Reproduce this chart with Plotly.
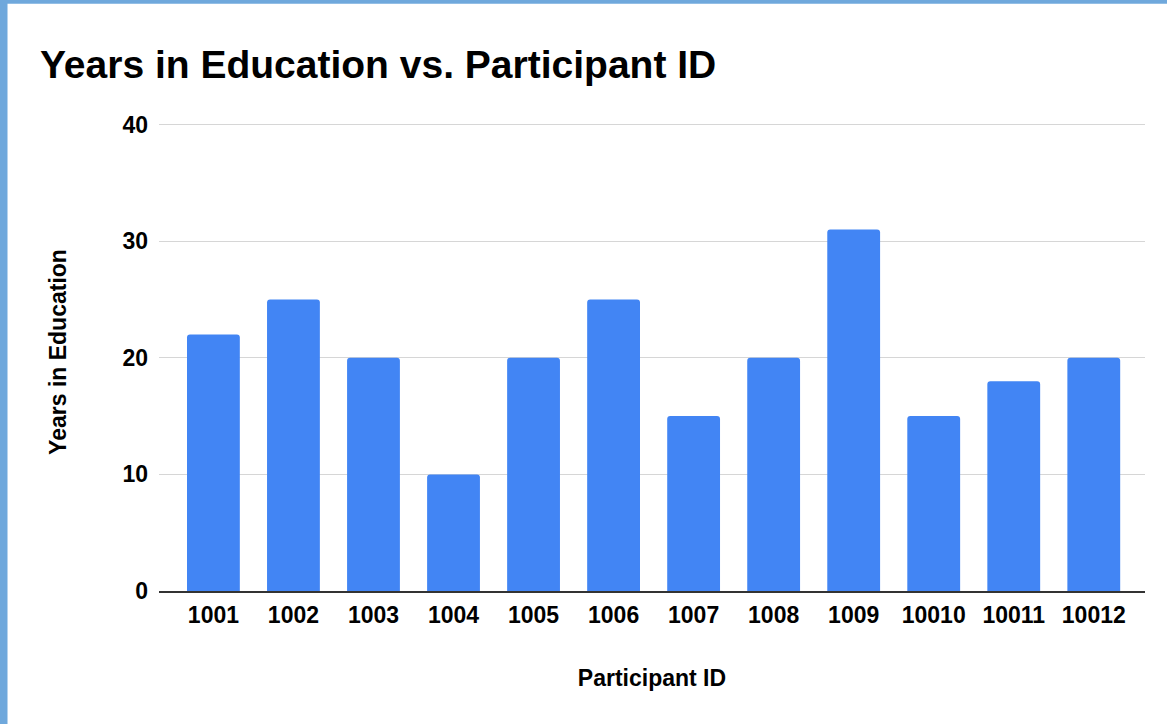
import plotly.graph_objects as go

# Participant IDs and their years in education
participant_ids = ["1001", "1002", "1003", "1004", "1005", "1006",
                   "1007", "1008", "1009", "10010", "10011", "10012"]
years_in_education = [22, 25, 20, 10, 20, 25, 15, 20, 31, 15, 18, 20]
y_ticks = [0, 10, 20, 30, 40]

W, H = 1167, 724
M_L, M_R, M_T, M_B = 159, 22, 113, 133
PW, PH = W - M_L - M_R, H - M_T - M_B

FONT = "Liberation Sans, Arial, sans-serif"
BAR = "#4285F4"
FRAME = "#6FA8DC"

fig = go.Figure(
    go.Bar(
        x=list(range(len(participant_ids))),
        y=years_in_education,
        marker=dict(color=BAR, line=dict(width=0), cornerradius=3),
        width=0.66,
        hoverinfo="x+y",
    )
)

fig.update_layout(
    width=W,
    height=H,
    margin=dict(l=M_L, r=M_R, t=M_T, b=M_B),
    paper_bgcolor="white",
    plot_bgcolor="white",
    showlegend=False,
    font=dict(family=FONT, color="#000000"),
    title=dict(
        text="Years in Education vs. Participant ID",
        font=dict(family=FONT, size=39, weight="bold", color="#000000"),
        x=40 / W,
        xanchor="left",
        xref="container",
        y=1 - 64 / H,
        yanchor="middle",
        yref="container",
    ),
    xaxis=dict(
        tickmode="array",
        tickvals=list(range(len(participant_ids))),
        ticktext=participant_ids,
        range=[-0.68, 11.64],
        showgrid=False,
        zeroline=False,
        showline=True,
        linecolor="#333333",
        linewidth=1.5,
        ticks="",
        ticklabelstandoff=3,
        tickfont=dict(family=FONT, size=23, weight="bold", color="#000000"),
        title=dict(
            text="Participant ID",
            font=dict(family=FONT, size=23, weight="bold", color="#000000"),
            standoff=43,
        ),
    ),
    yaxis=dict(
        range=[0, 41],
        tickmode="array",
        tickvals=y_ticks,
        showgrid=True,
        gridcolor="#D6D6D6",
        gridwidth=1,
        zeroline=False,
        showline=False,
        ticks="",
        ticklabelstandoff=10,
        tickfont=dict(family=FONT, size=23, weight="bold", color="#000000"),
        title=dict(
            text="Years in Education",
            font=dict(family=FONT, size=23, weight="bold", color="#000000"),
            standoff=49,
        ),
    ),
    shapes=[
        # frame strip along the left edge
        dict(type="rect", xref="paper", yref="paper", layer="above",
             x0=-M_L / PW - 0.01, x1=(7.5 - M_L) / PW,
             y0=-M_B / PH - 0.01, y1=1 + M_T / PH + 0.01,
             fillcolor=FRAME, line=dict(width=0)),
        # frame strip along the top edge
        dict(type="rect", xref="paper", yref="paper", layer="above",
             x0=-M_L / PW - 0.01, x1=1 + M_R / PW + 0.01,
             y0=1 + (M_T - 3.8) / PH, y1=1 + M_T / PH + 0.01,
             fillcolor=FRAME, line=dict(width=0)),
    ],
)

fig.write_html("out.html")
